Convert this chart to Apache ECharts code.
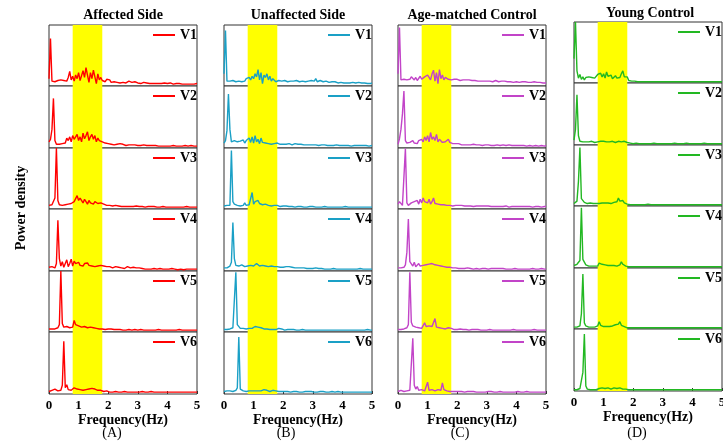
<!DOCTYPE html>
<html>
<head>
<meta charset="utf-8">
<script src="https://cdn.jsdelivr.net/npm/echarts@6.0.0/dist/echarts.min.js"></script>
<style>html,body{margin:0;padding:0;background:#fff;}#chart{width:723px;height:442px;}</style>
</head>
<body>
<div id="chart"></div>
<script>
// ---------- DATA ----------
const freq = [0,0.05,0.1,0.15,0.2,0.25,0.3,0.35,0.4,0.45,
0.5,0.55,0.6,0.65,0.7,0.75,0.8,0.85,0.9,0.95,
1,1.05,1.1,1.15,1.2,1.25,1.3,1.35,1.4,1.45,
1.5,1.55,1.6,1.65,1.7,1.75,1.8,1.85,1.9,1.95,
2,2.05,2.1,2.15,2.2,2.25,2.3,2.35,2.4,2.45,
2.5,2.55,2.6,2.65,2.7,2.75,2.8,2.85,2.9,2.95,
3,3.05,3.1,3.15,3.2,3.25,3.3,3.35,3.4,3.45,
3.5,3.55,3.6,3.65,3.7,3.75,3.8,3.85,3.9,3.95,
4,4.05,4.1,4.15,4.2,4.25,4.3,4.35,4.4,4.45,
4.5,4.55,4.6,4.65,4.7,4.75,4.8,4.85,4.9,4.95,5];
const xTicks = [0,1,2,3,4,5];
const rowLabels = ['V1','V2','V3','V4','V5','V6'];
const panelTitles = ['Affected Side','Unaffected Side','Age-matched Control','Young Control'];
const panelTags = ['(A)','(B)','(C)','(D)'];
const bandHz = [0.8, 1.8];

// Affected Side (relative power density, % of row height)
const affectedV1 = [12,78,8,5,7,6,9,6,10,7, 9,12,8,14,24,10,16,8,18,12, 22,9,17,25,14,30,18,6,22,12, 26,15,4,20,10,14,9,12,7,11, 8,10,6,9,7,8,6,7,5,8, 6,7,5,6,8,5,6,5,7,5, 5,6,4,5,6,4,5,5,4,6, 4,5,4,5,4,5,4,4,5,4, 4,4,5,4,3,4,4,3,4,4, 3,4,3,4,3,4,3,4,3,3, 4];
const affectedV2 = [10,14,30,80,12,6,8,6,9,7, 10,8,16,12,18,10,20,14,16,22, 12,18,10,24,15,20,26,12,18,22, 14,20,10,16,12,14,10,9,8,11, 7,9,6,8,5,7,6,5,7,5, 6,5,4,6,5,4,5,4,5,4, 4,5,4,4,5,4,4,3,4,4, 4,3,4,4,3,4,3,4,3,4, 3,4,3,3,4,3,3,4,3,3, 3,3,4,3,3,3,4,3,3,3, 3];
const affectedV3 = [6,8,7,6,18,100,14,7,5,6, 5,7,6,8,6,9,7,12,10,22, 14,18,20,10,16,12,8,14,10,12, 8,12,14,9,8,10,7,8,10,6, 8,6,9,5,7,6,8,5,6,4, 5,4,6,4,5,4,5,4,4,5, 4,4,3,4,4,3,4,4,3,4, 3,4,3,3,4,3,3,4,3,3, 3,3,4,3,3,3,4,3,3,3, 3,3,3,4,3,3,3,3,4,3, 3];
const affectedV4 = [6,5,7,6,5,12,82,20,8,15, 6,9,18,7,12,19,8,16,12,10, 14,9,11,8,12,10,13,9,11,8, 10,7,9,8,6,9,7,8,6,7, 5,7,6,5,6,7,5,6,8,5, 6,4,5,7,4,5,4,6,4,5, 4,5,3,4,4,3,4,3,4,3, 3,4,3,3,3,4,3,3,3,3, 3,3,3,4,3,3,3,2,3,3, 3,2,3,3,3,3,2,3,3,3, 3];
const affectedV5 = [5,6,5,6,5,6,7,12,100,14, 8,7,9,8,7,10,8,19,12,14, 10,12,8,11,9,10,7,9,8,10, 7,8,6,7,5,6,5,6,4,5, 5,4,5,4,4,5,4,3,4,4, 3,4,3,3,4,3,3,3,4,3, 3,3,4,3,3,3,3,4,3,3, 3,3,3,3,4,3,3,3,3,3, 3,4,3,3,3,3,3,3,4,3, 3,3,3,3,3,4,3,3,3,3, 3];
const affectedV6 = [4,5,6,5,8,6,5,7,6,14, 85,10,15,7,9,6,8,10,7,8, 6,7,5,6,5,7,6,8,7,9, 11,8,7,6,5,6,5,4,4,5, 4,3,4,3,3,4,3,3,3,3, 3,4,3,3,3,3,4,3,3,3, 3,3,3,4,3,3,3,3,3,4, 3,3,3,3,3,3,4,3,3,3, 3,3,3,3,4,3,3,3,3,3, 3,3,4,3,3,3,3,3,3,3, 3];

// Unaffected Side
const unaffectedV1 = [20,91,8,6,8,7,9,8,7,9, 8,10,7,9,8,12,9,14,10,16, 12,20,15,27,10,22,4,18,14,20, 10,16,8,12,9,7,8,9,7,8, 7,9,8,7,9,8,6,8,7,9, 8,7,9,8,10,7,9,8,7,9, 11,8,12,7,10,9,8,7,6,8, 7,6,8,7,6,7,6,5,7,6, 6,5,6,5,6,5,5,6,5,5, 5,6,5,5,4,5,5,4,5,4, 5];
const unaffectedV2 = [8,12,28,87,30,10,8,12,9,10, 7,11,9,13,8,12,10,16,9,18, 8,20,10,14,7,16,9,12,8,10, 7,9,6,8,7,6,8,7,6,7, 6,7,6,5,7,6,5,6,7,5, 6,5,6,5,5,6,5,6,5,5, 5,6,5,5,4,5,5,4,5,5, 4,5,4,5,4,4,5,4,4,5, 4,4,4,5,4,4,3,4,4,4, 4,3,4,4,4,3,4,4,3,4, 4];
const unaffectedV3 = [5,7,6,8,6,96,12,8,5,6, 7,5,8,6,10,6,8,7,9,27, 8,12,10,14,9,11,7,10,8,9, 6,8,5,7,6,5,6,5,4,6, 5,4,5,4,4,5,4,4,3,4, 4,3,4,4,3,4,3,4,4,3, 4,3,3,4,3,4,3,3,4,3, 3,4,3,3,3,4,3,3,3,3, 3,3,4,3,3,3,3,3,3,4, 3,3,3,3,3,3,3,4,3,3, 3];
const unaffectedV4 = [5,6,5,7,8,14,78,20,9,10, 8,9,10,8,7,9,8,10,9,11, 8,10,12,9,8,7,9,6,8,7, 7,6,8,5,7,6,7,8,6,7, 6,8,7,6,7,5,6,7,5,6, 5,6,5,4,5,5,4,5,4,5, 4,4,5,4,4,3,4,4,3,4, 3,4,3,3,4,3,3,4,3,3, 3,3,3,4,3,3,3,3,3,3, 3,3,4,3,3,3,3,3,3,3, 3];
const unaffectedV5 = [4,5,4,5,5,6,7,10,98,12, 10,6,8,6,7,5,7,6,8,6, 7,9,6,8,5,7,6,5,6,5, 6,4,5,4,5,4,5,6,4,5, 4,3,4,4,3,4,3,4,3,3, 4,3,3,4,3,3,3,3,4,3, 3,3,3,3,4,3,3,3,3,3, 3,3,4,3,3,3,3,3,3,3, 3,3,3,3,3,3,4,3,3,3, 3,3,3,3,3,3,3,4,3,3, 3];
const unaffectedV6 = [4,6,5,7,5,6,4,5,6,10, 92,8,7,5,6,4,6,5,7,5, 6,5,7,5,6,5,6,7,5,6, 5,4,5,6,4,5,4,4,5,4, 4,4,3,4,4,3,4,4,3,4, 4,3,4,3,4,4,3,4,3,4, 4,3,4,3,3,4,3,4,3,3, 4,3,3,4,3,3,3,4,3,3, 3,3,4,3,3,3,3,3,4,3, 3,3,3,3,3,3,3,3,3,3, 3];

// Age-matched Control
const ageMatchedV1 = [20,96,10,12,11,14,10,13,11,15, 12,10,14,9,12,16,11,13,15,12, 18,14,10,20,26,8,22,4,27,12, 18,10,14,12,11,13,10,12,11,10, 11,10,9,11,10,9,10,9,10,9, 9,8,9,10,8,9,8,9,8,9, 8,9,8,8,7,8,9,8,7,8, 8,7,8,7,7,8,7,7,6,7, 7,7,6,7,7,6,7,6,6,7, 6,6,7,6,6,5,6,6,5,6, 5];
const ageMatchedV2 = [6,15,30,55,92,12,8,6,9,7, 12,8,10,7,12,9,14,10,18,12, 20,10,25,14,18,12,22,10,14,12, 9,12,10,8,14,9,8,7,6,7, 6,7,6,5,6,5,6,5,6,5, 5,6,5,5,4,5,5,4,5,5, 4,5,5,4,5,4,4,5,4,4, 4,5,4,4,4,5,4,4,3,4, 4,4,3,4,5,4,4,3,4,4, 4,3,4,4,4,3,4,4,4,3, 4];
const ageMatchedV3 = [8,12,9,6,8,99,10,6,7,10, 8,12,9,14,8,16,10,18,12,14, 10,16,8,12,18,9,11,8,10,7, 9,7,8,6,7,6,7,5,6,6, 5,6,5,6,5,5,6,5,4,5, 5,4,5,5,4,5,4,5,4,5, 4,5,4,4,5,4,4,4,5,4, 4,4,4,5,4,3,4,4,4,4, 3,4,4,4,3,4,4,4,3,4, 4,3,4,4,3,4,4,3,4,4, 4];
const ageMatchedV4 = [5,6,5,7,6,10,30,84,15,12, 8,14,7,10,12,8,10,9,11,10, 12,11,14,12,15,10,12,9,10,8, 9,7,8,6,7,6,7,5,6,5, 5,4,5,4,5,4,4,5,4,4, 4,3,5,4,4,3,4,4,3,4, 4,3,4,4,3,4,3,4,3,4, 3,4,3,3,4,3,4,3,3,4, 3,3,4,3,3,3,4,3,3,3, 3,4,3,3,3,3,3,4,3,3, 3];
const ageMatchedV5 = [4,5,4,6,5,6,7,12,98,16, 10,12,8,9,7,8,6,8,15,9, 8,10,12,9,11,22,8,10,7,9, 6,8,5,6,7,5,6,5,4,5, 4,4,5,4,4,3,4,4,3,4, 4,3,4,3,4,3,3,4,3,4, 3,3,4,3,3,4,3,3,3,4, 3,3,3,4,3,3,3,3,4,3, 3,3,3,3,3,4,3,3,3,3, 3,3,4,3,3,3,3,3,3,3, 3];
const ageMatchedV6 = [4,5,6,5,4,6,5,4,6,8, 90,14,8,12,6,5,7,6,5,6, 19,6,5,7,6,5,6,7,5,6, 18,7,6,5,6,4,5,4,5,4, 4,4,3,4,4,3,4,4,3,4, 3,4,4,3,4,3,4,3,4,3, 3,4,3,4,3,3,4,3,3,4, 3,3,4,3,3,3,4,3,3,3, 3,4,3,3,3,3,3,4,3,3, 3,3,3,3,4,3,3,3,3,3, 3];

// Young Control
const youngV1 = [40,100,20,8,14,6,10,5,9,6, 10,8,9,7,8,10,14,12,16,10, 15,8,18,11,9,13,7,10,12,8, 11,9,15,20,10,8,10,4,3,3, 2,3,2,2,3,2,2,2,2,2, 2,2,2,2,2,2,2,2,2,2, 2,2,2,2,2,2,2,2,2,2, 2,2,2,2,2,2,2,2,2,2, 2,2,2,2,2,2,2,2,2,2, 2,2,2,2,2,2,2,2,2,2, 2];
const youngV2 = [8,25,81,15,6,4,5,4,5,4, 5,4,6,5,4,6,5,7,6,8, 6,7,5,6,5,4,6,5,4,5, 6,8,5,7,6,5,4,3,3,2, 2,2,3,2,2,2,2,3,2,2, 2,2,2,2,3,2,2,2,2,2, 2,3,2,2,2,2,2,2,3,2, 2,2,2,2,2,2,3,2,2,2, 2,2,2,2,2,2,2,2,3,2, 2,2,2,2,2,2,2,2,2,2, 2];
const youngV3 = [4,5,8,40,96,12,10,6,5,4, 4,5,4,4,3,4,5,4,6,5, 6,5,4,5,6,4,5,6,5,7, 13,8,6,9,5,4,3,3,2,2, 2,2,2,3,2,2,2,2,2,2, 3,2,2,2,2,2,2,3,2,2, 2,2,2,2,2,3,2,2,2,2, 2,2,2,2,2,2,2,2,2,2, 2,3,2,2,2,2,2,2,2,2, 2,2,2,2,2,2,2,2,2,2, 2];
const youngV4 = [4,5,6,8,12,97,14,12,5,4, 3,4,3,4,3,4,3,8,5,6, 4,5,6,4,3,4,3,4,5,3, 4,5,10,6,4,3,3,2,2,2, 2,2,2,2,2,2,2,2,2,2, 2,2,2,2,2,2,2,2,2,2, 2,2,2,2,2,2,2,2,2,2, 2,2,2,2,2,2,2,2,2,2, 2,2,2,2,2,2,2,2,2,2, 2,2,2,2,2,2,2,2,2,2, 2];
const youngV5 = [3,4,3,4,5,25,90,10,5,4, 3,4,3,4,3,4,5,12,6,5, 4,5,4,5,4,6,5,4,7,6, 8,12,6,5,4,3,2,2,2,2, 2,2,2,2,2,2,2,2,2,2, 2,2,2,2,2,2,2,2,2,2, 2,2,2,2,2,2,2,2,2,2, 2,2,2,2,2,2,2,2,2,2, 2,2,2,2,2,2,2,2,2,2, 2,2,2,2,2,2,2,2,2,2, 2];
const youngV6 = [2,3,2,3,4,5,30,92,8,3, 3,2,3,2,3,2,3,4,3,5, 3,4,3,5,4,3,4,5,3,4, 6,5,4,3,5,3,2,2,2,2, 2,2,2,2,2,2,2,2,2,2, 2,2,2,2,2,2,2,2,2,2, 2,2,2,2,2,2,2,2,2,2, 2,2,2,2,2,2,2,2,2,2, 2,2,2,2,2,2,2,2,2,2, 2,2,2,2,2,2,2,2,2,2, 2];

// ---------- LAYOUT / STYLE ----------
const FONT = '"Liberation Serif","Times New Roman",serif';
const panels = [
  {key:'A', color:'#FF0000', rows:[affectedV1,affectedV2,affectedV3,affectedV4,affectedV5,affectedV6], left:49, top:25, tagX:112},
  {key:'B', color:'#1AA0C6', rows:[unaffectedV1,unaffectedV2,unaffectedV3,unaffectedV4,unaffectedV5,unaffectedV6], left:224, top:25, tagX:286},
  {key:'C', color:'#C244C8', rows:[ageMatchedV1,ageMatchedV2,ageMatchedV3,ageMatchedV4,ageMatchedV5,ageMatchedV6], left:398, top:25, tagX:460},
  {key:'D', color:'#22B822', rows:[youngV1,youngV2,youngV3,youngV4,youngV5,youngV6], left:574, top:22, tagX:637}
];
const rowEdges = [0,61,123,184,246,307,369];
const PW = 148;

const grids=[], xAxes=[], yAxes=[], series=[], legends=[], graphics=[];
panels.forEach((p,pi)=>{
  graphics.push({type:'text', x:p.left+PW/2 + (pi===3?2:0), y:(pi===3?13:15),
    style:{text:panelTitles[pi], font:'bold 14px '+FONT, fill:'#000', textAlign:'center', textVerticalAlign:'middle'}});
  graphics.push({type:'text', x:p.tagX, y:433, style:{text:panelTags[pi], font:'14px '+FONT, fill:'#000', textAlign:'center', textVerticalAlign:'middle'}});
  p.rows.forEach((vals,ri)=>{
    const k = grids.length;
    const top = p.top + rowEdges[ri];
    const h = rowEdges[ri+1]-rowEdges[ri];
    const bottom = ri===5;
    grids.push({left:p.left, top:top, width:PW, height:h, show:true, borderColor:'#333', borderWidth:1,
      backgroundColor:'#fff', outerBoundsMode:'none', containLabel:false});
    xAxes.push({gridIndex:k, type:'value', min:xTicks[0], max:xTicks[xTicks.length-1], interval:1,
      axisLine:{show:false}, splitLine:{show:false},
      axisTick:{show:bottom, inside:true, length:3, lineStyle:{color:'#333'}},
      axisLabel:{show:bottom, margin:5, fontFamily:FONT, fontWeight:'bold', fontSize:13, color:'#000', hideOverlap:false},
      name: bottom ? 'Frequency(Hz)' : '', nameLocation:'middle', nameGap:14,
      nameTextStyle:{fontFamily:FONT, fontWeight:'bold', fontSize:14, color:'#000'}});
    yAxes.push({gridIndex:k, type:'value', min:0, max:100, show:false});
    const name = p.key+'-'+rowLabels[ri];
    series.push({name:name, type:'line', xAxisIndex:k, yAxisIndex:k,
      data: freq.map((f,i)=>[f, vals[i]]), showSymbol:false, symbol:'none',
      lineStyle:{width:1.4, color:p.color}, itemStyle:{color:p.color}, clip:true,
      markArea:{silent:true, itemStyle:{color:'#FFFF00', opacity:1}, data:[[{xAxis:bandHz[0]},{xAxis:bandHz[1]}]]}});
    legends.push({data:[name], left:p.left+104, top:top+3, padding:0, icon:'rect', itemWidth:22, itemHeight:2,
      formatter:()=>rowLabels[ri], selectedMode:false,
      textStyle:{fontFamily:FONT, fontWeight:'bold', fontSize:14, color:'#000'}});
  });
});
graphics.push({type:'text', x:21, y:208, rotation:Math.PI/2,
  style:{text:'Power density', font:'bold 14px '+FONT, fill:'#000', textAlign:'center', textVerticalAlign:'middle'}});

const chart = echarts.init(document.getElementById('chart'), null, {renderer:'canvas'});
chart.setOption({
  animation:false,
  backgroundColor:'#fff',
  grid:grids, xAxis:xAxes, yAxis:yAxes, series:series, legend:legends, graphic:graphics
});
</script>
</body>
</html>
